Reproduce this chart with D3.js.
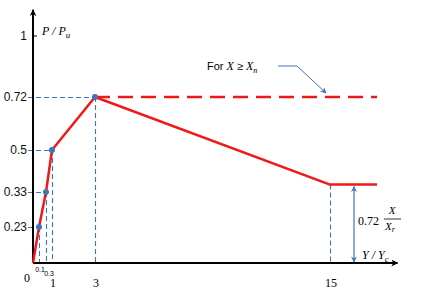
<!DOCTYPE html>
<html><head><meta charset="utf-8">
<script src="https://cdn.jsdelivr.net/npm/d3@7"></script>
<style>body{margin:0;background:#fff}</style>
</head><body>
<svg id="c" width="424" height="295"></svg>
<script>
// data
const xTicks = [0.1, 0.3, 1, 3, 15];
const xTickLabels = ["0.1", "0.3", "1", "3", "15"];
const yTicks = [0.23, 0.33, 0.5, 0.72, 1];
const yTickLabels = ["0.23", "0.33", "0.5", "0.72", "1"];
const curveX = [0, 0.1, 0.3, 1, 3, 15, 17.4];
const curveY = [0, 0.23, 0.33, 0.5, 0.72, 0.36, 0.36];
const markerX = [0.1, 0.3, 1, 3];
const markerY = [0.23, 0.33, 0.5, 0.72];
const dashedX = [3, 17.4];
const dashedY = [0.72, 0.72];
const axisMaxX = 18.45, axisMaxY = 1.12;

const svg = d3.select("#c");
const x = d3.scaleLinear().domain([0, 0.1, 0.3, 1, 3, 15]).range([33, 39, 46, 52, 95, 330]);
const y = d3.scaleLinear().domain([0, 0.23, 0.33, 0.5, 0.72, 1]).range([263, 227, 192, 150, 97, 36]);

const blue = "#3f74b8", red = "#f01818";

const defs = svg.append("defs");
defs.append("marker").attr("id","ah").attr("viewBox","0 0 10 10").attr("refX",9).attr("refY",5)
  .attr("markerWidth",9).attr("markerHeight",7).attr("orient","auto-start-reverse").attr("markerUnits","userSpaceOnUse")
  .append("path").attr("d","M0,0L10,5L0,10L3,5z").attr("fill","#000");
defs.append("marker").attr("id","bh").attr("viewBox","0 0 10 10").attr("refX",9).attr("refY",5)
  .attr("markerWidth",7).attr("markerHeight",6).attr("orient","auto-start-reverse").attr("markerUnits","userSpaceOnUse")
  .append("path").attr("d","M0,0L10,5L0,10L3,5z").attr("fill",blue);

// blue dashed guides
const g = svg.append("g").attr("stroke", blue).attr("stroke-width",1.1).attr("stroke-dasharray","5,3").attr("fill","none");
markerX.forEach((mx,i)=>{
  g.append("line").attr("x1",28).attr("x2",x(mx)).attr("y1",y(markerY[i])+0.5).attr("y2",y(markerY[i])+0.5);
  g.append("line").attr("x1",x(mx)+0.5).attr("x2",x(mx)+0.5).attr("y1",y(markerY[i])).attr("y2",y(0));
});
g.append("line").attr("x1",x(15)+0.5).attr("x2",x(15)+0.5).attr("y1",y(curveY[5])).attr("y2",y(0));

// axes
svg.append("line").attr("x1",x(0)).attr("x2",x(0)).attr("y1",y(0)).attr("y2",y(axisMaxY))
  .attr("stroke","#000").attr("stroke-width",2).attr("marker-end","url(#ah)");
svg.append("line").attr("x1",x(0)).attr("x2",x(axisMaxX)).attr("y1",y(0)).attr("y2",y(0))
  .attr("stroke","#000").attr("stroke-width",2).attr("marker-end","url(#ah)");
svg.append("line").attr("x1",x(0)).attr("x2",x(0)+4).attr("y1",y(1)).attr("y2",y(1)).attr("stroke","#000");

// red dashed
svg.append("path").datum(dashedX.map((d,i)=>[d,dashedY[i]]))
  .attr("d", d3.line().x(d=>x(d[0])).y(d=>y(d[1])))
  .attr("stroke",red).attr("stroke-width",2.5).attr("stroke-dasharray","15,8").attr("fill","none");
// red curve
svg.append("path").datum(curveX.map((d,i)=>[d,curveY[i]]))
  .attr("d", d3.line().x(d=>x(d[0])).y(d=>y(d[1])))
  .attr("stroke",red).attr("stroke-width",2.5).attr("fill","none").attr("stroke-linejoin","round");

// markers
svg.selectAll("circle.m").data(markerX).join("circle").attr("class","m")
  .attr("cx",d=>x(d)).attr("cy",(d,i)=>y(markerY[i])).attr("r",3).attr("fill",blue);

// y tick labels
svg.selectAll("text.yt").data(yTicks).join("text").attr("class","yt")
  .attr("x",27).attr("y",d=>y(d)+4).attr("text-anchor","end")
  .attr("font-family","Liberation Sans, Arial, sans-serif").attr("font-size",12).attr("fill","#111")
  .text((d,i)=>yTickLabels[i]);

// x tick labels
const serif = "Liberation Serif, Times New Roman, serif";
svg.append("text").attr("x",27).attr("y",282).attr("font-family",serif).attr("font-size",12).attr("text-anchor","middle").text("0");
svg.append("text").attr("x",x(0.1)+1).attr("y",272).attr("font-family","Liberation Sans, Arial, sans-serif").attr("font-size",7).attr("text-anchor","middle").text(xTickLabels[0]);
svg.append("text").attr("x",x(0.3)+3).attr("y",276).attr("font-family","Liberation Sans, Arial, sans-serif").attr("font-size",7).attr("text-anchor","middle").text(xTickLabels[1]);
[2,3,4].forEach(i=>{
  svg.append("text").attr("x",x(xTicks[i])+1).attr("y",287).attr("font-family",serif).attr("font-size",12).attr("text-anchor","middle").text(xTickLabels[i]);
});

// axis titles
const pt = svg.append("text").attr("x",42).attr("y",35).attr("font-family",serif).attr("font-size",12).attr("font-style","italic");
pt.append("tspan").text("P / P");
pt.append("tspan").attr("font-size",9).attr("dy",3).text("u");
const xt = svg.append("text").attr("x",362).attr("y",259).attr("font-family",serif).attr("font-size",12).attr("font-style","italic");
xt.append("tspan").text("Y / Y");
xt.append("tspan").attr("font-size",9).attr("dy",3).text("c");

// annotation
const an = svg.append("text").attr("x",207).attr("y",70).attr("font-family","Liberation Sans, Arial, sans-serif").attr("font-size",11);
an.append("tspan").text("For ");
an.append("tspan").attr("font-family",serif).attr("font-style","italic").attr("font-size",12).text(" X ");
an.append("tspan").attr("font-size",11).text("\u2265 ");
an.append("tspan").attr("font-family",serif).attr("font-style","italic").attr("font-size",12).text("X");
an.append("tspan").attr("font-family",serif).attr("font-style","italic").attr("font-size",8).attr("dy",3).text("n");
svg.append("path").attr("d","M278,66L297,66L326,93").attr("stroke",blue).attr("stroke-width",1).attr("fill","none").attr("marker-end","url(#bh)");

// double arrow
svg.append("line").attr("x1",354).attr("x2",354).attr("y1",y(curveY[5])+2).attr("y2",y(0)-1)
  .attr("stroke",blue).attr("stroke-width",1.2).attr("marker-start","url(#bh)").attr("marker-end","url(#bh)");
svg.append("text").attr("x",358).attr("y",225).attr("font-family",serif).attr("font-size",12).text("0.72");
svg.append("text").attr("x",392).attr("y",214).attr("font-family",serif).attr("font-size",11).attr("font-style","italic").attr("text-anchor","middle").text("X");
svg.append("line").attr("x1",384).attr("x2",401).attr("y1",219).attr("y2",219).attr("stroke","#000").attr("stroke-width",0.8);
const fr = svg.append("text").attr("x",385).attr("y",230).attr("font-family",serif).attr("font-size",11).attr("font-style","italic");
fr.append("tspan").text("X");
fr.append("tspan").attr("font-size",8).attr("dy",2).text("r");
</script>
</body></html>
